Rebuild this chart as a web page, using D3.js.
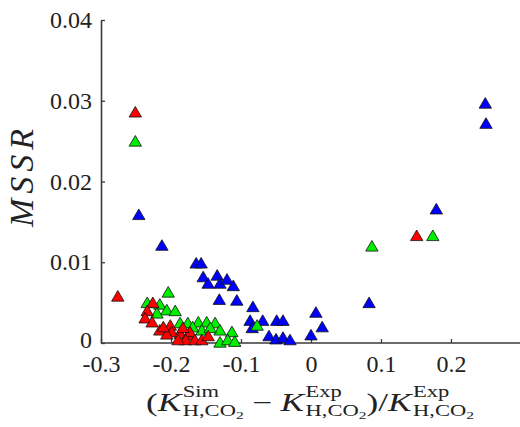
<!DOCTYPE html>
<html>
<head>
<meta charset="utf-8">
<script src="https://cdn.jsdelivr.net/npm/d3@7"></script>
<style>
  html, body { margin: 0; padding: 0; background: #fff; }
  svg { display: block; }
</style>
</head>
<body>
<svg id="chart" width="520" height="427"></svg>
<script>
// ---- data (x = relative deviation, y = MSSR) ----
const blueX = [0.249, 0.250, 0.179, 0.083, -0.246, -0.213, -0.164, -0.157, -0.154, -0.147, -0.134, -0.130, -0.120, -0.111, -0.131, -0.106, -0.083, -0.087, -0.084, -0.069, -0.049, -0.040, -0.060, -0.050, -0.040, -0.030, 0.007, 0.016, 0.000];
const blueY = [0.0297, 0.0272, 0.0166, 0.0050, 0.0159, 0.0121, 0.0099, 0.0099, 0.0082, 0.0074, 0.0084, 0.0074, 0.0079, 0.0071, 0.0054, 0.0053, 0.0045, 0.0028, 0.0019, 0.0028, 0.0028, 0.0028, 0.0009, 0.0005, 0.0007, 0.0004, 0.0038, 0.0020, 0.0010];

const greenX = [-0.251, -0.204, 0.087, 0.174, -0.234, -0.216, -0.206, -0.194, -0.220, -0.187, -0.176, -0.161, -0.149, -0.137, -0.130, -0.113, -0.156, -0.144, -0.130, -0.119, -0.109, -0.077, -0.169];
const greenY = [0.0250, 0.0063, 0.0120, 0.0133, 0.0050, 0.0048, 0.0041, 0.0040, 0.0037, 0.0025, 0.0025, 0.0026, 0.0026, 0.0025, 0.0016, 0.0014, 0.0016, 0.0019, 0.0001, 0.0004, 0.0002, 0.0022, 0.0020];

const redX = [-0.251, -0.276, 0.151, -0.226, -0.234, -0.237, -0.227, -0.216, -0.201, -0.199, -0.187, -0.176, -0.173, -0.179, -0.166, -0.156, -0.147, -0.190, -0.206, -0.211, -0.183];
const redY = [0.0286, 0.0058, 0.0133, 0.0050, 0.0040, 0.0031, 0.0026, 0.0016, 0.0022, 0.0014, 0.0012, 0.0010, 0.0014, 0.0004, 0.0004, 0.0004, 0.0009, 0.0004, 0.0011, 0.0020, 0.0019];

const xTicks = [-0.3, -0.2, -0.1, 0, 0.1, 0.2];
const yTicks = [0, 0.01, 0.02, 0.03, 0.04];
const xTickLabels = ["-0.3", "-0.2", "-0.1", "0", "0.1", "0.2"];
const yTickLabels = ["0", "0.01", "0.02", "0.03", "0.04"];

const seriesColors = ["#0000ff", "#00ee00", "#ff0000"];

// ---- drawing ----
const svg = d3.select("#chart");
const x = d3.scaleLinear().domain([-0.3, 0.3]).range([101, 521]);
const y = d3.scaleLinear().domain([0, 0.04]).range([343, 20]);

const serif = "'Liberation Serif', 'DejaVu Serif', serif";
const axisColor = "#3a3a3a";

const gx = svg.append("g").attr("transform", "translate(0,343)")
  .call(d3.axisBottom(x).tickValues(xTicks)
    .tickFormat((d, i) => xTickLabels[i])
    .tickSizeInner(-4).tickSizeOuter(0).tickPadding(12));
const gy = svg.append("g").attr("transform", "translate(101,0)")
  .call(d3.axisLeft(y).tickValues(yTicks)
    .tickFormat((d, i) => yTickLabels[i])
    .tickSizeInner(-4).tickSizeOuter(0).tickPadding(9));

[gx, gy].forEach(g => {
  g.select(".domain").attr("stroke", axisColor).attr("stroke-width", 1.6);
  g.selectAll(".tick line").attr("stroke", axisColor).attr("stroke-width", 1.3);
  g.selectAll(".tick text").attr("font-family", serif).attr("font-size", 24)
    .attr("fill", "#222");
});
gx.select(".domain").attr("d", "M101,0H520");
// nudge the y "0" label up slightly so it does not collide with "-0.3"
gy.selectAll(".tick text").filter((d) => d === 0).attr("dy", "0.2em");

// markers
const tri = "M0,-5.6L6.2,5L-6.2,5Z";
const series = [
  {xs: blueX, ys: blueY, c: seriesColors[0]},
  {xs: greenX, ys: greenY, c: seriesColors[1]},
  {xs: redX, ys: redY, c: seriesColors[2]}
];
series.forEach(s => {
  const pts = s.xs.map((v, i) => [v, s.ys[i]]);
  svg.append("g").selectAll("path").data(pts).join("path")
    .attr("d", tri)
    .attr("transform", d => `translate(${x(d[0])},${y(d[1])})`)
    .attr("fill", s.c)
    .attr("stroke", "#111")
    .attr("stroke-width", 0.8);
});

// y label
svg.append("text")
  .attr("transform", "translate(33,178) rotate(-90)")
  .attr("text-anchor", "middle")
  .attr("font-family", serif)
  .attr("font-style", "italic")
  .attr("font-size", 34)
  .attr("fill", "#222")
  .attr("textLength", 98)
  .attr("lengthAdjust", "spacing")
  .text("MSSR");

// x label (math layout)
const lab = svg.append("g");
let cx = 0;
const F = 25, FS = 16, FSS = 11;
function piece(txt, opts = {}) {
  const t = lab.append("text")
    .attr("x", opts.x !== undefined ? opts.x : cx)
    .attr("y", opts.dy || 0)
    .attr("font-family", serif)
    .attr("font-size", opts.size || F)
    .attr("font-style", opts.italic ? "italic" : "normal")
    .attr("fill", "#222")
    .text(txt);
  const w = t.node().getComputedTextLength();
  if (!opts.noAdvance) cx += w;
  return w;
}
function stack(sup) {
  const x0 = cx;
  const w1 = piece(sup, {size: FS, dy: -14, x: x0, noAdvance: true});
  const wa = piece("H,CO", {size: FS, dy: 5, x: x0, noAdvance: true});
  const wb = piece("2", {size: FSS, dy: 8, x: x0 + wa, noAdvance: true});
  cx = x0 + Math.max(w1, wa + wb);
}
piece("(");
piece("K", {italic: true}); cx += 1;
stack("Sim");
cx += 6; piece("\u2212"); cx += 6;
piece("K", {italic: true}); cx += 1;
stack("Exp");
piece(")");
piece("/");
piece("K", {italic: true}); cx += 1;
stack("Exp");
const totalW = cx;
const sc = 328 / totalW;
lab.attr("transform", `translate(${310 - totalW * sc / 2},411) scale(${sc},1)`);
</script>
</body>
</html>
